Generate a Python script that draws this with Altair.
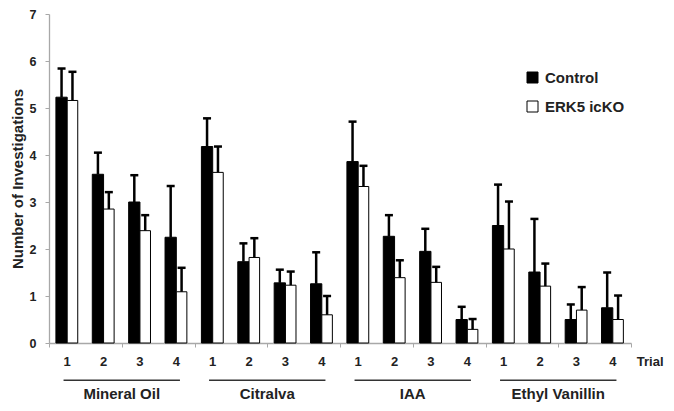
import altair as alt
import pandas as pd

odors = ["Mineral Oil", "Citralva", "IAA", "Ethyl Vanillin"]
trials = ["1", "2", "3", "4"]
series = ["Control", "ERK5 icKO"]

control_mean = [5.23, 3.59, 3.00, 2.25, 4.18, 1.73, 1.28, 1.26,
                3.86, 2.27, 1.95, 0.50, 2.50, 1.51, 0.50, 0.75]
control_err = [0.61, 0.46, 0.57, 1.09, 0.60, 0.39, 0.28, 0.67,
               0.85, 0.45, 0.48, 0.27, 0.87, 1.13, 0.32, 0.75]
ko_mean = [5.16, 2.85, 2.39, 1.09, 3.63, 1.82, 1.23, 0.60,
           3.33, 1.39, 1.29, 0.29, 2.00, 1.21, 0.70, 0.50]
ko_err = [0.61, 0.36, 0.33, 0.51, 0.55, 0.41, 0.29, 0.40,
          0.44, 0.37, 0.33, 0.22, 1.01, 0.48, 0.49, 0.51]

FONT = "Liberation Sans"
TXT = "#222222"
AX = "#a8a8a8"

rows = []
for i in range(len(odors) * len(trials)):
    for s, means, errs, lo, hi in [
        ("Control", control_mean, control_err, 0.19, 0.50),
        ("ERK5 icKO", ko_mean, ko_err, 0.50, 0.79),
    ]:
        c = i + (lo + hi) / 2
        rows.append({
            "series": s, "odor": odors[i // 4], "trial": trials[i % 4],
            "x0": i + lo, "x1": i + hi, "xc": c, "cl": c - 0.11, "cr": c + 0.11,
            "mean": means[i], "top": means[i] + errs[i],
        })
df = pd.DataFrame(rows)

trial_df = pd.DataFrame({
    "pos": [i + 0.5 for i in range(16)],
    "label": [trials[i % 4] for i in range(16)],
})
group_df = pd.DataFrame({
    "g0": [g * 4 + 0.4 for g in range(4)],
    "g1": [g * 4 + 3.6 for g in range(4)],
    "gc": [g * 4 + 2 for g in range(4)],
    "odor": odors,
})
trial_title_df = pd.DataFrame({"pos": [16.16], "label": ["Trial"]})

xs = alt.Scale(domain=[0, 16], nice=False, zero=False)
ys = alt.Scale(domain=[0, 7], nice=False)

bars = alt.Chart(df).mark_bar(stroke="black", strokeWidth=1).encode(
    x=alt.X("x0:Q", scale=xs, axis=alt.Axis(
        values=list(range(17)), labels=False, title=None, tickSize=4,
        tickColor=AX, domainColor=AX, domainWidth=1.3, tickWidth=1, grid=False)),
    x2="x1:Q",
    y=alt.Y("mean:Q", scale=ys, axis=alt.Axis(
        values=list(range(8)), title="Number of Investigations", tickSize=4,
        tickColor=AX, domainColor=AX, domainWidth=1.3, grid=False,
        labelFont=FONT, labelFontSize=12.5, labelFontWeight="bold", labelColor=TXT,
        labelPadding=9, titleFont=FONT, titleFontSize=15, titleFontWeight="bold",
        titleColor=TXT, titlePadding=4)),
    y2=alt.datum(0),
    fill=alt.Fill("series:N", scale=alt.Scale(domain=series, range=["#000000", "#ffffff"]),
                  legend=alt.Legend(title=None, orient="none", legendX=476, legendY=56,
                                    symbolType="square", symbolSize=121,
                                    symbolStrokeColor="black", symbolStrokeWidth=1,
                                    labelFont=FONT, labelFontSize=15, labelFontWeight="bold",
                                    labelColor=TXT, labelOffset=5, rowPadding=13)),
)

err = alt.Chart(df).mark_rule(color="black", strokeWidth=2.5).encode(
    x="xc:Q", y="mean:Q", y2="top:Q")
caps = alt.Chart(df).mark_rule(color="black", strokeWidth=2.5).encode(
    x="cl:Q", x2="cr:Q", y="top:Q")

trial_labels = alt.Chart(trial_df).mark_text(
    font=FONT, fontSize=13, fontWeight="bold", color=TXT, baseline="middle"
).encode(x="pos:Q", y=alt.value(348), text="label:N")

trial_title = alt.Chart(trial_title_df).mark_text(
    font=FONT, fontSize=13, fontWeight="bold", color=TXT, baseline="middle", align="left"
).encode(x="pos:Q", y=alt.value(348), text="label:N")

group_lines = alt.Chart(group_df).mark_rule(color="#333333", strokeWidth=1.5).encode(
    x="g0:Q", x2="g1:Q", y=alt.value(366.3))

group_labels = alt.Chart(group_df).mark_text(
    font=FONT, fontSize=15, fontWeight="bold", color=TXT, baseline="middle"
).encode(x="gc:Q", y=alt.value(380), text="odor:N")

chart = alt.layer(bars, err, caps, trial_labels, trial_title, group_lines, group_labels).properties(
    width=582, height=329,
    autosize=alt.AutoSizeParams(type="none"),
    padding={"left": 41, "top": 6, "right": 35, "bottom": 60},
).configure_view(stroke=None)

chart.save("out.html", embed_options={"renderer": "svg", "actions": False})
